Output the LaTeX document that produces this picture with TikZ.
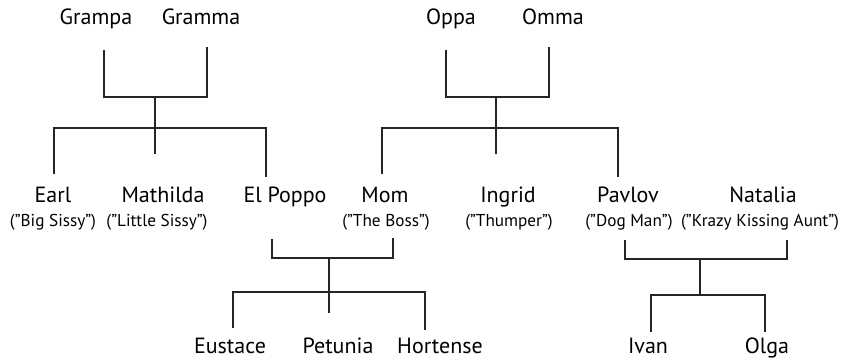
\documentclass[tikz,border=0pt]{standalone}
\usepackage{fontspec}
\setmainfont{PT Sans}

\begin{document}
\begin{tikzpicture}[x=0.5pt,y=-0.5pt,
    person/.style={anchor=base,inner sep=0pt,font=\fontsize{11}{13}\selectfont},
    nick/.style={anchor=base,inner sep=0pt,font=\fontsize{8.6}{10}\selectfont},
    tree/.style={line width=1.3pt,black!85}]
  \useasboundingbox (0,0) rectangle (845,360);
  % grandparents
  \node[person] (grampa) at (96,24) {Grampa};
  \node[person] (gramma) at (201,24) {Gramma};
  \node[person] (oppa) at (451,24) {Oppa};
  \node[person] (omma) at (553,24) {Omma};
  % parents and aunts/uncles
  \node[person] (earl) at (53,202) {Earl};
  \node[nick] (earlnick) at (53,226) {("Big Sissy")};
  \node[person] (mathilda) at (163,202) {Mathilda};
  \node[nick] (mathildanick) at (157,226) {("Little Sissy")};
  \node[person] (elpoppo) at (285,202) {El Poppo};
  \node[person] (mom) at (385,202) {Mom};
  \node[nick] (momnick) at (386,226) {("The Boss")};
  \node[person] (ingrid) at (508,202) {Ingrid};
  \node[nick] (ingridnick) at (509,226) {("Thumper")};
  \node[person] (pavlov) at (628,202) {Pavlov};
  \node[nick] (pavlovnick) at (629,226) {("Dog Man")};
  \node[person] (natalia) at (763,202) {Natalia};
  \node[nick] (natalianick) at (760,226) {("Krazy Kissing Aunt")};
  % grandchildren
  \node[person] (eustace) at (230,353) {Eustace};
  \node[person] (petunia) at (338,353) {Petunia};
  \node[person] (hortense) at (440,353) {Hortense};
  \node[person] (ivan) at (648,353) {Ivan};
  \node[person] (olga) at (767,353) {Olga};
  % junctions
  \coordinate (gj) at (155,97);  \coordinate (gb) at (155,128); \coordinate (gs) at (155,154);
  \coordinate (oj) at (496,97);  \coordinate (ob) at (496,128); \coordinate (os) at (496,154);
  \coordinate (pj) at (329,258); \coordinate (pb) at (329,292); \coordinate (ps) at (329,313);
  \coordinate (nj) at (700,259); \coordinate (nb) at (700,295);
  % Grampa + Gramma
  \draw[tree] ([shift={(8,26)}]grampa.base) |- (gj) -| ([shift={(6,23)}]gramma.base);
  \draw[tree] (gj) -- (gs);
  \draw[tree] ([shift={(1,-28)}]earl.base) |- (gb) -| ([shift={(-19,-25)}]elpoppo.base);
  % Oppa + Omma
  \draw[tree] ([shift={(-5,26)}]oppa.base) |- (oj) -| ([shift={(-4,23)}]omma.base);
  \draw[tree] (oj) -- (os);
  \draw[tree] ([shift={(-3,-28)}]mom.base) |- (ob) -| ([shift={(-10,-25)}]pavlov.base);
  % El Poppo + Mom
  \draw[tree] ([shift={(-13,37)}]elpoppo.base) |- (pj) -| ([shift={(7,12)}]momnick.base);
  \draw[tree] (pj) -- (ps);
  \draw[tree] ([shift={(3,-25)}]eustace.base) |- (pb) -| ([shift={(-15,-23)}]hortense.base);
  % Pavlov + Natalia
  \draw[tree] ([shift={(-4,14)}]pavlovnick.base) |- (nj) -| ([shift={(27,14)}]natalianick.base);
  \draw[tree] (nj) -- (nb);
  \draw[tree] ([shift={(3,-21)}]ivan.base) |- (nb) -| ([shift={(-2,-21)}]olga.base);
\end{tikzpicture}
\end{document}
